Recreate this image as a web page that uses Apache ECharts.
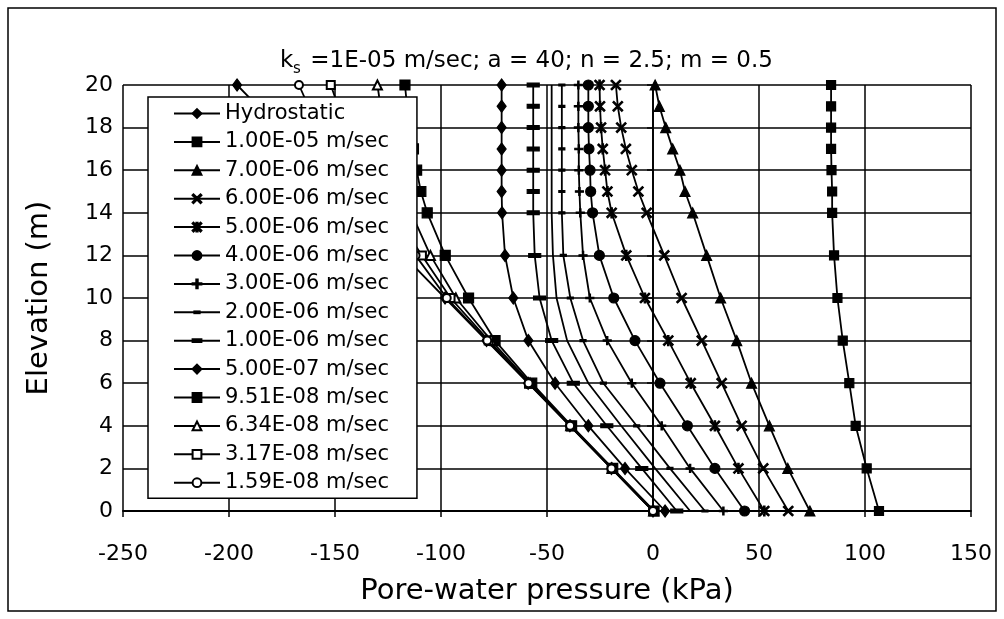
<!DOCTYPE html>
<html>
<head>
<meta charset="utf-8">
<script src="https://cdn.jsdelivr.net/npm/echarts@6/dist/echarts.min.js"></script>
<style>
  html, body { margin: 0; padding: 0; background: #fff; }
  #chart { width: 1004px; height: 619px; }
</style>
</head>
<body>
<div id="chart"></div>
<script>
// elevations (m) at which each profile was read
const elevations = [0, 2, 4, 6, 8, 10, 12, 14, 15, 16, 17, 18, 19, 20];

// pore-water pressure (kPa) at each elevation
const hydrostatic = [0, -19.6, -39.2, -58.9, -78.5, -98.1, -117.7, -137.3, -147.2, -157.0, -166.8, -176.6, -186.4, -196.2];
const k1e5 = [106.6, 100.8, 95.6, 92.6, 89.5, 87.0, 85.4, 84.5, 84.5, 84.2, 84.0, 84.0, 84.0, 84.0];
const k7e6 = [74.0, 63.6, 54.9, 46.5, 39.5, 31.9, 25.3, 18.7, 15.1, 12.7, 9.3, 6.0, 3.0, 1.0];
const k6e6 = [63.8, 52.0, 41.8, 32.4, 23.0, 13.5, 5.3, -3.0, -6.9, -10.0, -12.8, -15.0, -16.6, -17.5];
const k5e6 = [52.5, 40.3, 29.2, 17.8, 7.2, -3.8, -12.6, -19.5, -21.5, -22.6, -23.7, -24.5, -25.0, -25.2];
const k4e6 = [43.2, 29.2, 16.2, 3.3, -8.5, -18.5, -25.3, -28.5, -29.4, -29.7, -30.2, -30.5, -30.5, -30.5];
const k3e6 = [33.2, 17.5, 4.1, -10.0, -21.6, -29.8, -33.0, -34.3, -34.7, -35.0, -35.0, -35.2, -35.2, -35.2];
const k2e6 = [24.5, 8.0, -7.7, -23.4, -33.0, -39.0, -42.3, -43.0, -43.0, -43.0, -43.0, -43.0, -43.0, -43.0];
const unlabelled = [17.5, 1.0, -15.0, -30.5, -40.5, -45.5, -47.2, -47.8, -47.8, -47.8, -47.8, -47.8, -47.8, -47.8];
const k1e6 = [11.2, -5.3, -21.8, -37.6, -47.8, -53.5, -55.8, -56.5, -56.5, -56.5, -56.5, -56.5, -56.5, -56.5];
const k5e7 = [5.7, -13.2, -30.5, -46.2, -58.8, -65.9, -69.8, -71.2, -71.4, -71.4, -71.4, -71.4, -71.4, -71.4];
const k951e8 = [0.5, -19.0, -38.4, -57.2, -74.5, -87.0, -98.0, -106.5, -109.5, -111.5, -113.0, -114.5, -116.0, -117.0];
const k634e8 = [0.3, -19.3, -38.8, -58.0, -76.3, -93.0, -105.0, -114.0, -118.0, -121.0, -124.0, -126.5, -128.5, -130.0];
const k317e8 = [0.1, -19.5, -39.0, -58.5, -77.5, -95.5, -109.0, -122.0, -128.5, -134.5, -140.0, -145.0, -148.5, -152.0];
const k159e8 = [0.0, -19.6, -39.1, -58.7, -78.2, -97.3, -112.0, -128.0, -136.5, -144.5, -151.5, -157.5, -162.5, -167.0];

const xTicks = [-250, -200, -150, -100, -50, 0, 50, 100, 150];
const yTicks = [0, 2, 4, 6, 8, 10, 12, 14, 16, 18, 20];

const FONT = '"DejaVu Sans", "Liberation Sans", Arial, sans-serif';

// marker shapes (the leading moves keep a square box so dashes stay thin)
const xMark = 'path://M0,1L1,0L5,4L9,0L10,1L6,5L10,9L9,10L5,6L1,10L0,9L4,5Z';
const starMark = 'path://M0,1L1,0L5,4L9,0L10,1L6,5L10,9L9,10L5,6L1,10L0,9L4,5Z M4.3,0L5.7,0L5.7,10L4.3,10Z';
const plusMark = 'path://M4.2,0L5.8,0L5.8,4.2L10,4.2L10,5.8L5.8,5.8L5.8,10L4.2,10L4.2,5.8L0,5.8L0,4.2L4.2,4.2Z';
const shortDash = 'path://M0,0M10,10M2,4L8,4L8,6L2,6Z';
const longDash = 'path://M0,0M10,10M0,3.4L10,3.4L10,6.6L0,6.6Z';

function profile(name, values, symbol, size) {
    return {
        name: name,
        type: 'line',
        data: values.map((u, i) => [u, elevations[i]]),
        symbol: symbol,
        symbolSize: size,
        showAllSymbol: true,
        lineStyle: { color: '#000', width: 1.8 },
        itemStyle: { color: '#000', borderColor: '#000', borderWidth: 1.2 },
        emphasis: { disabled: true },
        animation: false
    };
}

const series = [
    profile('Hydrostatic', hydrostatic, 'diamond', [9, 12]),
    profile('1.00E-05 m/sec', k1e5, 'rect', 9),
    profile('7.00E-06 m/sec', k7e6, 'triangle', 10),
    profile('6.00E-06 m/sec', k6e6, xMark, 10),
    profile('5.00E-06 m/sec', k5e6, starMark, 10),
    profile('4.00E-06 m/sec', k4e6, 'circle', 10),
    profile('3.00E-06 m/sec', k3e6, plusMark, 8),
    profile('2.00E-06 m/sec', k2e6, shortDash, 10),
    profile('', unlabelled, 'none', 0),
    profile('1.00E-06 m/sec', k1e6, longDash, 12),
    profile('5.00E-07 m/sec', k5e7, 'diamond', [9, 12]),
    profile('9.51E-08 m/sec', k951e8, 'rect', 10),
    profile('6.34E-08 m/sec', k634e8, 'emptyTriangle', 9),
    profile('3.17E-08 m/sec', k317e8, 'emptyRect', 8),
    profile('1.59E-08 m/sec', k159e8, 'emptyCircle', 8)
];

const chart = echarts.init(document.getElementById('chart'), null, { renderer: 'canvas' });

chart.setOption({
    backgroundColor: '#fff',
    animation: false,
    textStyle: { fontFamily: FONT, color: '#000' },
    grid: { left: 123, right: 33, top: 85, bottom: 108, containLabel: false },
    xAxis: {
        type: 'value',
        min: xTicks[0],
        max: xTicks[xTicks.length - 1],
        interval: 50,
        name: 'Pore-water pressure (kPa)',
        nameLocation: 'middle',
        nameGap: 66,
        nameTextStyle: { fontSize: 29, color: '#000', fontFamily: FONT },
        axisLine: { onZero: false, lineStyle: { color: '#000', width: 1.8 } },
        axisTick: { show: true, inside: false, length: 6, lineStyle: { color: '#000', width: 1.5 } },
        axisLabel: { fontSize: 22, color: '#000', margin: 32, fontFamily: FONT },
        splitLine: { show: true, lineStyle: { color: '#000', width: 1.5 } }
    },
    yAxis: {
        type: 'value',
        min: yTicks[0],
        max: yTicks[yTicks.length - 1],
        interval: 2,
        name: 'Elevation (m)',
        nameLocation: 'middle',
        nameGap: 69,
        nameRotate: 90,
        nameTextStyle: { fontSize: 29, color: '#000', fontFamily: FONT },
        axisLine: { show: true, lineStyle: { color: '#000', width: 1.8 } },
        axisTick: { show: true, inside: false, length: 6, lineStyle: { color: '#000', width: 1.5 } },
        axisLabel: { fontSize: 22, color: '#000', margin: 10, fontFamily: FONT },
        splitLine: { show: true, lineStyle: { color: '#000', width: 1.5 } }
    },
    legend: {
        data: series.map(s => s.name).filter(n => n !== ''),
        orient: 'vertical',
        left: 148,
        top: 97,
        padding: [6, 28, 5, 25],
        itemGap: 7.4,
        itemWidth: 46,
        itemHeight: 11,
        backgroundColor: '#fff',
        borderColor: '#000',
        borderWidth: 1.5,
        borderRadius: 0,
        selectedMode: false,
        textStyle: { fontSize: 21, lineHeight: 21, color: '#000', fontFamily: FONT }
    },
    graphic: [
        {
            type: 'rect',
            shape: { x: 8, y: 8, width: 988, height: 603 },
            style: { fill: 'none', stroke: '#000', lineWidth: 1.5 },
            silent: true
        },
        {
            type: 'text', left: 280, top: 50,
            style: { text: 'k', font: '23px ' + FONT, fill: '#000' }
        },
        {
            type: 'text', left: 293, top: 62,
            style: { text: 's', font: '15px ' + FONT, fill: '#000' }
        },
        {
            type: 'text', left: 303, top: 50,
            style: { text: ' =1E-05 m/sec; a = 40; n = 2.5; m = 0.5', font: '23px ' + FONT, fill: '#000' }
        }
    ],
    series: series
});
</script>
</body>
</html>
